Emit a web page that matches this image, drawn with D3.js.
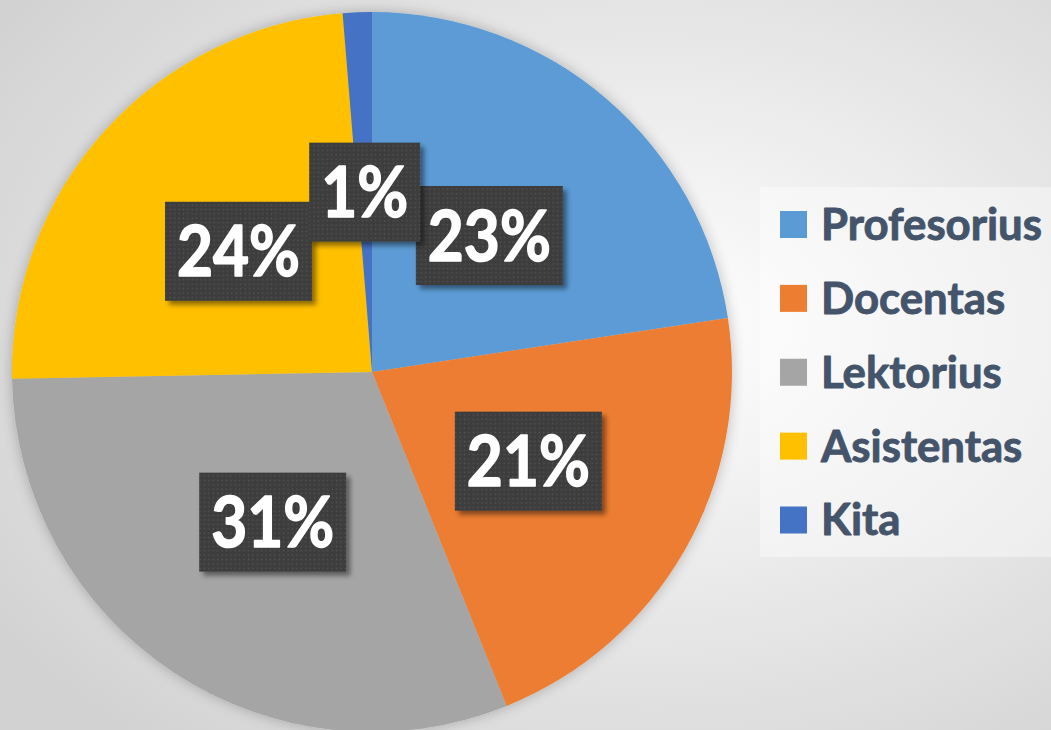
<!DOCTYPE html>
<html>
<head>
<meta charset="utf-8">
<script src="https://cdn.jsdelivr.net/npm/d3@7"></script>
<style>
  html, body { margin: 0; padding: 0; overflow: hidden; }
  svg { display: block; }
</style>
</head>
<body>
<script>
const categories = ["Profesorius", "Docentas", "Lektorius", "Asistentas", "Kita"];
const values = [22.6, 21.3, 30.8, 24.0, 1.3];
const colors = ["#5B9BD5", "#ED7D31", "#A5A5A5", "#FFC000", "#4472C4"];

const width = 1051, height = 730;
const cx = 372, cy = 372, radius = 360;

const data = categories.map((c, i) => ({name: c, value: values[i], color: colors[i]}));
const total = d3.sum(values);

const svg = d3.select("body").append("svg")
    .attr("width", width)
    .attr("height", height);

const defs = svg.append("defs");

// background gradient
const bg = defs.append("radialGradient")
    .attr("id", "bg")
    .attr("cx", "62%").attr("cy", "45%").attr("r", "75%");
bg.append("stop").attr("offset", "0%").attr("stop-color", "#ffffff");
bg.append("stop").attr("offset", "100%").attr("stop-color", "#d2d2d2");

// soft shadow for pie
const pieShadow = defs.append("filter").attr("id", "pieShadow")
    .attr("x", "-10%").attr("y", "-10%").attr("width", "120%").attr("height", "120%");
pieShadow.append("feGaussianBlur").attr("in", "SourceAlpha").attr("stdDeviation", 7);
pieShadow.append("feComponentTransfer").append("feFuncA").attr("type", "linear").attr("slope", 0.25);
const pm = pieShadow.append("feMerge");
pm.append("feMergeNode");
pm.append("feMergeNode").attr("in", "SourceGraphic");

// label box shadow
const boxShadow = defs.append("filter").attr("id", "boxShadow")
    .attr("x", "-20%").attr("y", "-20%").attr("width", "150%").attr("height", "150%");
boxShadow.append("feGaussianBlur").attr("in", "SourceAlpha").attr("stdDeviation", 2.5);
boxShadow.append("feOffset").attr("dx", 4).attr("dy", 4).attr("result", "off");
boxShadow.append("feComponentTransfer").append("feFuncA").attr("type", "linear").attr("slope", 0.45);
const bm = boxShadow.append("feMerge");
bm.append("feMergeNode");
bm.append("feMergeNode").attr("in", "SourceGraphic");

// dotted texture for label boxes
const pat = defs.append("pattern")
    .attr("id", "dots")
    .attr("patternUnits", "userSpaceOnUse")
    .attr("width", 4.4).attr("height", 4.4);
pat.append("rect").attr("width", 4.4).attr("height", 4.4).attr("fill", "#3d3d3d");
pat.append("rect").attr("x", 1.5).attr("y", 1.5).attr("width", 1.4).attr("height", 1.4).attr("fill", "#555555");

svg.append("rect")
    .attr("width", width).attr("height", height)
    .attr("fill", "url(#bg)");

// pie
const pie = d3.pie().sort(null).value(d => d.value);
const arc = d3.arc().innerRadius(0).outerRadius(radius);

const arcs = pie(data);

const g = svg.append("g")
    .attr("transform", `translate(${cx},${cy})`);

g.append("g")
    .attr("filter", "url(#pieShadow)")
    .selectAll("path")
    .data(arcs)
    .enter()
    .append("path")
    .attr("d", arc)
    .attr("fill", d => d.data.color);

const fontFam = "Lato, 'Open Sans', sans-serif";

// font sized by cap height, squeezed horizontally to match the narrower original face
function squeeze(text, size, targetW) {
    const p = svg.append("text")
        .attr("font-family", fontFam).attr("font-weight", 700)
        .attr("font-size", size).text(text);
    const k = targetW / p.node().getComputedTextLength();
    p.remove();
    return k;
}

const labelSize = 70;
const labelK = squeeze("23%", labelSize, 123);

// data labels
const labels = g.append("g")
    .selectAll(".label")
    .data(arcs)
    .enter()
    .append("g")
    .attr("class", "label")
    .attr("transform", d => `translate(${arc.centroid(d)})`);

labels.append("text")
    .attr("text-anchor", "middle")
    .attr("font-family", fontFam)
    .attr("font-weight", 700)
    .attr("font-size", labelSize)
    .attr("fill", "#ffffff")
    .attr("stroke", "#ffffff")
    .attr("stroke-width", 1.6)
    .attr("stroke-linejoin", "round")
    .attr("transform", `scale(${labelK},1)`)
    .attr("y", labelSize * 0.36)
    .text(d => Math.round(d.data.value / total * 100) + "%");

labels.each(function() {
    const lab = d3.select(this);
    const w = lab.select("text").node().getComputedTextLength() * labelK + 24;
    lab.insert("rect", "text")
        .attr("x", -w / 2)
        .attr("y", -49.5)
        .attr("width", w)
        .attr("height", 99)
        .attr("fill", "url(#dots)")
        .attr("filter", "url(#boxShadow)");
});

// legend
const legendX = 760, legendY = 187, legendW = 300, legendH = 370;
const legend = svg.append("g");

legend.append("rect")
    .attr("x", legendX).attr("y", legendY)
    .attr("width", legendW).attr("height", legendH)
    .attr("fill", "#ffffff").attr("fill-opacity", 0.4);

const legendSize = 43;
const legendK = squeeze("Profesorius", legendSize, 221);

const ly = d3.scalePoint()
    .domain(categories)
    .range([224.5, 520]);

const items = legend.selectAll(".item")
    .data(data)
    .enter()
    .append("g")
    .attr("class", "item")
    .attr("transform", d => `translate(0,${ly(d.name)})`);

items.append("rect")
    .attr("x", 780).attr("y", -13.5)
    .attr("width", 27).attr("height", 27)
    .attr("fill", d => d.color);

items.append("text")
    .attr("transform", `translate(821,${legendSize * 0.36}) scale(${legendK},1)`)
    .attr("font-family", fontFam)
    .attr("font-weight", 700)
    .attr("font-size", legendSize)
    .attr("fill", "#44546A")
    .attr("stroke", "#44546A")
    .attr("stroke-width", 0.9)
    .attr("stroke-linejoin", "round")
    .text(d => d.name);
</script>
</body>
</html>
